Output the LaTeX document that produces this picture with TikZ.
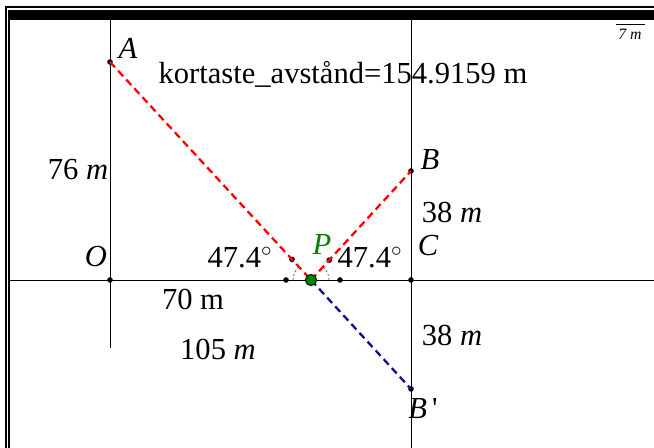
\documentclass[tikz,border=0pt]{standalone}
\usepackage{fontspec}
\setmainfont{Liberation Serif}
\usetikzlibrary{positioning, calc}
\definecolor{rodStreck}{HTML}{FF0000}
\definecolor{blaStreck}{HTML}{10108C}
\definecolor{gronPunkt}{HTML}{008000}
\definecolor{gravinkel}{HTML}{555555}

\begin{document}
\begin{tikzpicture}[x=0.02cm, y=0.02cm,
        axel/.style={draw=black, line width=0.5pt},
        punkt/.style={circle, fill=black, inner sep=0pt, minimum size=3.2pt},
        rod/.style={draw=rodStreck, line width=1.3pt, dash pattern=on 4.2pt off 2.6pt},
        bla/.style={draw=blaStreck, line width=1.3pt, dash pattern=on 4.2pt off 2.6pt},
        vinkel/.style={draw=gravinkel, line width=0.4pt, dash pattern=on 1.2pt off 1.2pt},
        etikett/.style={inner sep=0pt, font=\fontsize{17.4}{19}\selectfont},
        namn/.style={inner sep=0pt, font=\fontsize{17.4}{19}\selectfont\itshape}
    ]
        \useasboundingbox (0,0) rectangle (654,448);
        % ram
        \draw[line width=0.6pt] (6,0) -- (6,441) -- (654,441);
        \draw[line width=0.6pt] (9,0) -- (9,428);
        \fill[black] (8,428) rectangle (654,438);

        % axlar
        \coordinate (vx) at (9,168);
        \coordinate (hx) at (654,168);
        \coordinate (ytop) at (110,428);
        \coordinate (ybot) at (110,100);
        \coordinate (ctop) at (411,428);
        \coordinate (cbot) at (411,0);
        \draw[axel] (vx) -- (hx);
        \draw[axel] (ytop) -- (ybot);
        \draw[axel] (ctop) -- (cbot);

        % punkter
        \node[punkt] (O) at (110,168) {};
        \node[punkt] (A) at (110,386) {};
        \node[punkt] (B) at (411,277) {};
        \node[punkt] (C) at (411,168) {};
        \node[punkt] (Bp) at (411,59) {};
        \coordinate (P) at (311,168);
        \node[punkt] (v1) at (286,168) {};
        \node[punkt] (v2) at (340,168) {};
        \node[punkt] (v3) at (292,188.6) {};
        \node[punkt] (v4) at (329.3,187.9) {};

        \draw[rod] (A.center) -- (P);
        \draw[rod] (P) -- (B.center);
        \draw[bla] (P) -- (Bp.center);

        \draw[vinkel] ($(P)+(-18,0)$) arc[start angle=180, end angle=132.6, radius=18];
        \draw[vinkel] ($(P)+(18,0)$) arc[start angle=0, end angle=47.4, radius=18];
        \node[circle, fill=gronPunkt, draw=black!70!gronPunkt, line width=0.6pt, inner sep=0pt, minimum size=6.4pt] (Pdot) at (P) {};

        % texter
        \node[namn] (lA) at (128,400) {A};
        \node[namn] (lB) at (430,288) {B};
        \node[namn] (lC) at (428,202) {C};
        \node[namn] (lO) at (96,191) {O};
        \node[namn, text=gronPunkt] (lP) at (322,203) {P};
        \node[namn] (lBp) at (423,39) {B\,\upshape\textquotesingle};
        \node[etikett] (kort) at (343,374) {kortaste\_avstånd=154.9159 m};
        \node[etikett] (h76) at (78,278) {76 \textit{m}};
        \node[etikett] (h38a) at (452,236) {38 \textit{m}};
        \node[etikett] (h38b) at (452,113) {38 \textit{m}};
        \node[etikett] (d70) at (193,149) {70 m};
        \node[etikett] (d105) at (218,99) {105 \textit{m}};
        \node[etikett] (va) at (240,190) {47.4$^\circ$};
        \node[etikett] (vb) at (370,190) {47.4$^\circ$};
        \node[inner sep=0pt, font=\fontsize{9}{10}\selectfont\itshape] (skala) at (630,414) {7 m};
        \coordinate (s1) at (616,424);
        \coordinate (s2) at (645,424);
        \draw[line width=0.4pt] (s1) -- (s2);
    \end{tikzpicture}
\end{document}
